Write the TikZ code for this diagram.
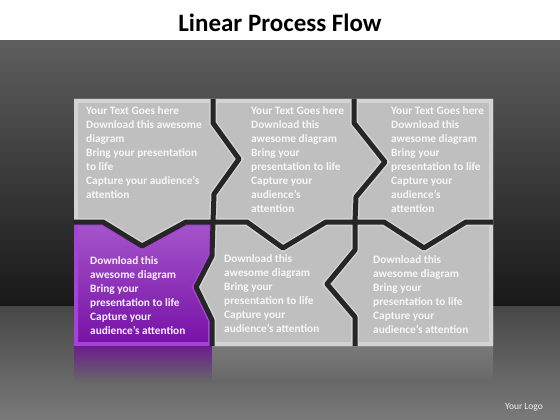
\documentclass[tikz,border=0pt]{standalone}
\usepackage{fontspec}
\setmainfont{Carlito}
\usepackage{tikz}
\usetikzlibrary{calc,positioning}

\definecolor{seam}{HTML}{262626}
\definecolor{tile}{HTML}{BFBFBF}
\definecolor{tilerim}{HTML}{D3D3D3}
\definecolor{violettop}{HTML}{A556CA}
\definecolor{violetbot}{HTML}{7610A6}
\definecolor{violetrim}{HTML}{A443D6}
\definecolor{walltop}{HTML}{5E5E5E}
\definecolor{wallbot}{HTML}{181818}
\definecolor{floortop}{HTML}{474747}
\definecolor{floorbot}{HTML}{7A7A7A}

% one piece of the puzzle: fill style, rim colour, outline
\newcommand{\tilepiece}[3]{%
	\begin{scope}
		\clip #3;
		\fill[#1] #3;
		\draw[#2, line width=8pt] #3;
	\end{scope}}

\begin{document}
\begin{tikzpicture}[x=1pt,y=-1pt,
	seamline/.style={seam, line width=5pt, line join=round},
	tiletext/.style={anchor=north west, inner sep=0pt, align=left,
		font=\fontsize{11.3}{14}\selectfont\bfseries, text=white!94!gray},
	]
	\useasboundingbox (0,0) rectangle (560,420);
	% backdrop: title strip, wall and floor
	\fill[white] (0,0) rectangle (560,41);
	\shade[top color=walltop, bottom color=wallbot] (0,41) rectangle (560,306);
	\shade[top color=floortop, bottom color=floorbot] (0,306) rectangle (560,420);
	\node[font=\fontsize{25}{30}\selectfont\bfseries, anchor=base] (title) at (280,32) {Linear Process Flow};
	\node[font=\fontsize{9.5}{11}\selectfont, text=white!88!gray, anchor=base] (logo) at (524,409) {Your Logo};
	
	% reflections on the floor
	\shade[top color=violetbot!75!floortop, bottom color=floortop!37!floorbot] (74,346) rectangle (212,382);
	\shade[top color=tile!42!floortop, bottom color=floortop!37!floorbot] (212,346) rectangle (493,382);
	
	% seam between column 1 and 2
	\coordinate (a0) at (213,99);
	\coordinate (a1) at (213,123);
	\coordinate (a2) at (239,159);
	\coordinate (a3) at (214,194);
	\coordinate (a4) at (213,222);
	\coordinate (d1) at (212,256);
	\coordinate (d2) at (196,287);
	\coordinate (d3) at (212,320);
	\coordinate (d4) at (212,346);
	% seam between column 2 and 3
	\coordinate (b0) at (354,99);
	\coordinate (b1) at (354,123);
	\coordinate (b2) at (385,162);
	\coordinate (b3) at (356,197);
	\coordinate (b4) at (355,222);
	\coordinate (e1) at (355,250);
	\coordinate (e2) at (327,284);
	\coordinate (e3) at (355,317);
	\coordinate (e4) at (355,346);
	% seam between the rows
	\coordinate (r0) at (74,222);
	\coordinate (r1) at (103,222);
	\coordinate (r2) at (142,246);
	\coordinate (r3) at (186,222);
	\coordinate (r4) at (247,222);
	\coordinate (r5) at (283,248);
	\coordinate (r6) at (326,222);
	\coordinate (r7) at (384,222);
	\coordinate (r8) at (424,248);
	\coordinate (r9) at (466,222);
	\coordinate (r10) at (493,222);
	
	% top row
	\tilepiece{fill=tile}{tilerim}{(74,99) -- (a0) -- (a1) -- (a2) -- (a3) -- (a4) -- (r3) -- (r2) -- (r1) -- (r0) -- cycle}
	\tilepiece{fill=tile}{tilerim}{(a0) -- (b0) -- (b1) -- (b2) -- (b3) -- (b4) -- (r6) -- (r5) -- (r4) -- (a4) -- (a3) -- (a2) -- (a1) -- cycle}
	\tilepiece{fill=tile}{tilerim}{(b0) -- (493,99) -- (r10) -- (r9) -- (r8) -- (r7) -- (b4) -- (b3) -- (b2) -- (b1) -- cycle}
	% bottom row
	\tilepiece{top color=violettop, bottom color=violetbot}{violetrim}{(r0) -- (r1) -- (r2) -- (r3) -- (a4) -- (d1) -- (d2) -- (d3) -- (d4) -- (74,346) -- cycle}
	\tilepiece{fill=tile}{tilerim}{(a4) -- (r4) -- (r5) -- (r6) -- (b4) -- (e1) -- (e2) -- (e3) -- (e4) -- (d4) -- (d3) -- (d2) -- (d1) -- cycle}
	\tilepiece{fill=tile}{tilerim}{(b4) -- (r7) -- (r8) -- (r9) -- (r10) -- (493,346) -- (e4) -- (e3) -- (e2) -- (e1) -- cycle}
	
	\draw[seamline] (a0) -- (a1) -- (a2) -- (a3) -- (a4) -- (d1) -- (d2) -- (d3) -- (d4);
	\draw[seamline] (b0) -- (b1) -- (b2) -- (b3) -- (b4) -- (e1) -- (e2) -- (e3) -- (e4);
	\draw[seamline] (r0) -- (r1) -- (r2) -- (r3) -- (a4) -- (r4) -- (r5) -- (r6) -- (b4) -- (r7) -- (r8) -- (r9) -- (r10);
	
	% texts
	\node[tiletext] (t1) at (86,106) {Your Text Goes here\\Download this awesome\\diagram\\Bring your presentation\\to life\\Capture your audience’s\\attention};
	\node[tiletext] (t2) at (251,106) {Your Text Goes here\\Download this\\awesome diagram\\Bring your\\presentation to life\\Capture your\\audience’s\\attention};
	\node[tiletext] (t3) at (391,106) {Your Text Goes here\\Download this\\awesome diagram\\Bring your\\presentation to life\\Capture your\\audience’s\\attention};
	\node[tiletext, text=violettop!8!white] (t4) at (90,256) {Download this\\awesome diagram\\Bring your\\presentation to life\\Capture your\\audience’s attention};
	\node[tiletext] (t5) at (224,254) {Download this\\awesome diagram\\Bring your\\presentation to life\\Capture your\\audience’s attention};
	\node[tiletext] (t6) at (373,255) {Download this\\awesome diagram\\Bring your\\presentation to life\\Capture your\\audience’s attention};
\end{tikzpicture}
\end{document}
